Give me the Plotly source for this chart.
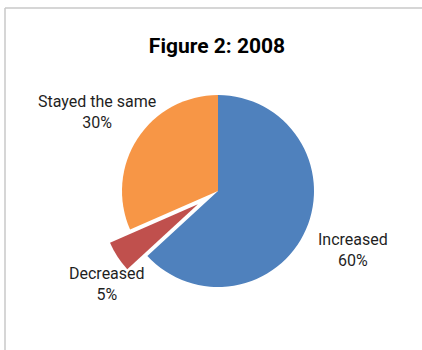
import math
import plotly.graph_objects as go

# Survey response shares for 2008
labels = ["Increased", "Decreased", "Stayed the same"]
values = [60, 5, 30]
pct_text = ["60%", "5%", "30%"]
colors = ["#4F81BD", "#C0504D", "#F79646"]
pulls = [0, 0.25, 0]

# Canvas and pie geometry (pixels)
W, H = 422, 350
CX, CY = 218, 191          # pie centre
R = 96                     # pie radius
half = R * (1 + max(pulls))  # half-size of the domain so the pulled slice fits

# Label placement along each slice's mid-angle, as multiples of the radius
label_dist = [1.54, 1.78, 1.51]
label_nudge_x = [0, 32, 0]

fig = go.Figure(
    go.Pie(
        labels=labels,
        values=values,
        textinfo="none",
        automargin=False,
        marker=dict(colors=colors, line=dict(width=0)),
        pull=pulls,
        sort=False,
        direction="clockwise",
        rotation=0,
        showlegend=False,
        hoverinfo="skip",
        domain=dict(x=[(CX - half) / W, (CX + half) / W],
                    y=[1 - (CY + half) / H, 1 - (CY - half) / H]),
    )
)

# Data labels: category name and share, centred on each slice's mid-angle
total = sum(values)
start = 0.0
annotations = []
for lab, val, txt, k, nx in zip(labels, values, pct_text, label_dist, label_nudge_x):
    span = 360.0 * val / total
    mid = math.radians(start + span / 2)
    start += span
    px = CX + k * R * math.sin(mid) + nx
    py = CY - k * R * math.cos(mid)
    annotations.append(dict(
        x=px / W, y=1 - py / H, xref="paper", yref="paper",
        text=f"{lab}<br>{txt}", showarrow=False,
        xanchor="center", yanchor="middle", align="center",
        font=dict(family="Roboto, sans-serif", size=16, color="#1f1f1f"),
    ))

fig.update_layout(
    width=W,
    height=H,
    margin=dict(l=0, r=0, t=0, b=0, autoexpand=False),
    showlegend=False,
    paper_bgcolor="white",
    plot_bgcolor="white",
    title=dict(
        text="<b>Figure 2: 2008</b>",
        x=217 / W,
        xanchor="center",
        y=1 - 46 / H,
        yanchor="middle",
        font=dict(family="Roboto, sans-serif", size=21, color="#000000"),
    ),
    annotations=annotations,
    shapes=[
        dict(type="line", xref="paper", yref="paper", x0=5 / W, x1=1, y0=1 - 8 / H, y1=1 - 8 / H,
             line=dict(color="#C8C8C8", width=1.5)),
        dict(type="line", xref="paper", yref="paper", x0=5 / W, x1=5 / W, y0=0, y1=1 - 8 / H,
             line=dict(color="#C8C8C8", width=1.5)),
    ],
)

fig.write_html("out.html")
